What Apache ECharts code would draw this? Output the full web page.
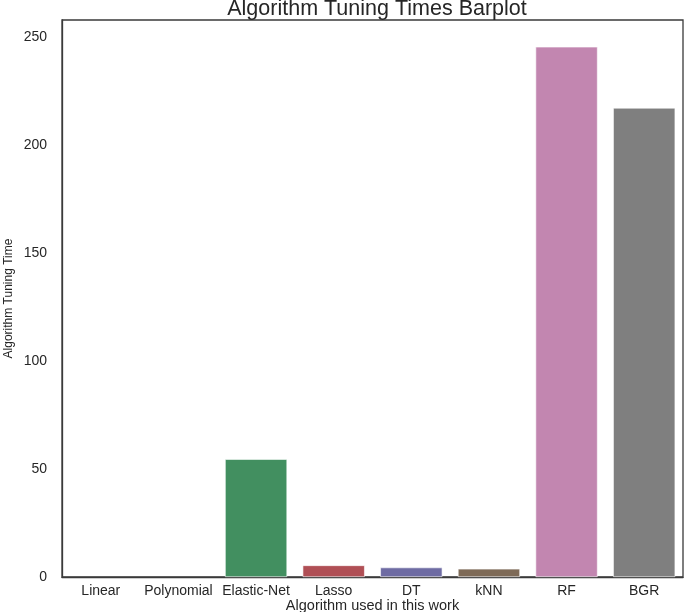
<!DOCTYPE html>
<html>
<head>
<meta charset="utf-8">
<script src="https://cdn.jsdelivr.net/npm/echarts@6/dist/echarts.min.js"></script>
<style>html,body{margin:0;padding:0;background:#fff;}#chart{width:685px;height:612px;}</style>
</head>
<body>
<div id="chart"></div>
<script>
var categories = ["Linear", "Polynomial", "Elastic-Net", "Lasso", "DT", "kNN", "RF", "BGR"];
var tuningTimes = [0.02, 0.05, 54.6, 5.4, 4.4, 3.8, 245.6, 217.3];
var barColors = ["#4d6fa6", "#c8865a", "#428f60", "#b04f55", "#6e6ba3", "#7e6a57", "#c286b0", "#7f7f7f"];
var yTicks = [0, 50, 100, 150, 200, 250];

var font = "Liberation Sans, Arial, Helvetica, sans-serif";
var chart = echarts.init(document.getElementById('chart'));
chart.setOption({
  animation: false,
  backgroundColor: '#ffffff',
  title: {
    text: 'Algorithm Tuning Times Barplot',
    left: 372, textAlign: 'center', top: -7,
    textStyle: { fontFamily: font, fontSize: 21.5, fontWeight: 'normal', color: '#262626' }
  },
  grid: {
    left: 62, right: 2, top: 20, bottom: 35,
    outerBoundsMode: 'none', containLabel: false,
    show: true, borderColor: '#3a3a3a', borderWidth: 1.3, backgroundColor: 'transparent'
  },
  xAxis: {
    type: 'category',
    data: categories,
    name: 'Algorithm used in this work',
    nameLocation: 'middle',
    nameGap: 21,
    nameMoveOverlap: false,
    nameTextStyle: { fontFamily: font, fontSize: 14.5, color: '#262626' },
    axisLine: { show: true, lineStyle: { color: '#3a3a3a', width: 1.3 } },
    axisTick: { show: false },
    axisLabel: { fontFamily: font, fontSize: 14, color: '#262626', margin: 7, interval: 0 },
    splitLine: { show: false }
  },
  yAxis: {
    type: 'value',
    min: 0, max: 258, interval: 50,
    name: 'Algorithm Tuning Time',
    nameLocation: 'middle',
    nameGap: 47,
    nameMoveOverlap: false,
    nameTextStyle: { fontFamily: font, fontSize: 12, color: '#262626' },
    axisLine: { show: true, lineStyle: { color: '#3a3a3a', width: 1.3 } },
    axisTick: { show: false },
    axisLabel: {
      fontFamily: font, fontSize: 14, color: '#262626', margin: 15, showMaxLabel: false,
      formatter: function (v) { return yTicks.indexOf(v) >= 0 ? String(v) : ''; }
    },
    splitLine: { show: false }
  },
  series: [{
    type: 'bar',
    data: tuningTimes.map(function (v, i) {
      return { value: v, itemStyle: { color: barColors[i], borderWidth: v < 1 ? 0 : 0.6 } };
    }),
    barCategoryGap: '20%',
    itemStyle: { borderColor: '#ffffff' }
  }]
});
</script>
</body>
</html>
